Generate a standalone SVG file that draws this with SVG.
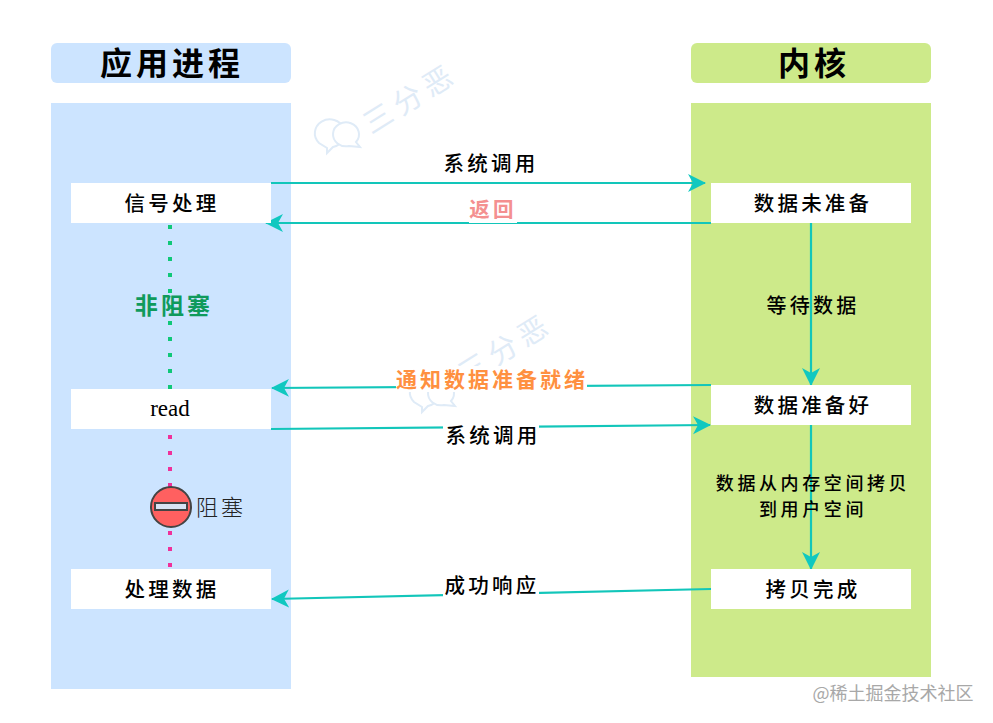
<svg xmlns="http://www.w3.org/2000/svg" width="993" height="723" viewBox="0 0 993 723">
<style>
text{font-family:"Noto Sans CJK SC","Noto Sans",sans-serif;text-anchor:middle;dominant-baseline:central;fill:#000}
.title{font-size:32px;font-weight:700;letter-spacing:4px}
.n{font-size:20.5px;font-weight:500;letter-spacing:3.2px}
.blue{fill:#cce4ff}.green{fill:#cdea8a}.box{fill:#fff}
.c{fill:none;stroke:#12c6ba;stroke-width:2.2}
.wm{fill:#dfebf7;font-size:29px;letter-spacing:6px}
.wb{fill:#fff;stroke:#dfebf7;stroke-width:2}
</style>
<defs>
<marker id="a" markerUnits="userSpaceOnUse" markerWidth="20" markerHeight="20" refX="17" refY="9" orient="auto"><path d="M0 0L18 9L0 18L5 9Z" fill="#10c8c0"/></marker>
</defs>
<rect width="993" height="723" fill="#fff"/>
<g id="watermarks">
<path class="wb" d="M319 143a15 14 0 1 1 14 4l-6 6 0-5z"/>
<path class="wb" d="M349 146a13 12 0 1 1 7-4l4 5z"/>
<text class="wm" transform="translate(409,96) rotate(-32)">三分恶</text>
<text class="wm" transform="translate(504,346) rotate(-32)">三分恶</text>
<path class="wb" d="M414 402a15 14 0 1 1 14 4l-6 6 0-5z"/>
<path class="wb" d="M444 405a13 12 0 1 1 7-4l4 5z"/>
</g>
<g id="lane-app"><rect class="blue" x="51" y="43" width="240" height="40" rx="6"/><text class="title" x="172" y="61">应用进程</text><rect class="blue" x="51" y="103" width="240" height="586"/></g>
<g id="lane-kernel"><rect class="green" x="691" y="43" width="240" height="40" rx="6"/><text class="title" x="814" y="61">内核</text><rect class="green" x="691" y="103" width="240" height="574"/></g>
<g id="connectors">
<line x1="170" y1="225" x2="170" y2="389" stroke="#10c878" stroke-width="4" stroke-dasharray="4 12"/>
<line x1="170" y1="435" x2="170" y2="569" stroke="#f0309a" stroke-width="4" stroke-dasharray="4 12"/>
<line class="c" x1="271" y1="183" x2="705" y2="183" marker-end="url(#a)"/>
<line class="c" x1="711" y1="223" x2="266" y2="223" marker-end="url(#a)"/>
<line class="c" x1="811" y1="223" x2="811" y2="385" marker-end="url(#a)"/>
<line class="c" x1="711" y1="385" x2="272" y2="388" marker-end="url(#a)"/>
<line class="c" x1="271" y1="429" x2="710" y2="425" marker-end="url(#a)"/>
<line class="c" x1="811" y1="425" x2="811" y2="569" marker-end="url(#a)"/>
<line class="c" x1="711" y1="589" x2="272" y2="599" marker-end="url(#a)"/>
</g>
<g id="n-signal"><rect class="box" x="71" y="183" width="200" height="40"/><text class="n" x="172" y="202">信号处理</text></g>
<g id="n-read"><rect class="box" x="71" y="389" width="200" height="40"/><text x="170" y="408" style="font-family:'Liberation Serif',serif;font-size:23px">read</text></g>
<g id="n-process"><rect class="box" x="71" y="569" width="200" height="40"/><text class="n" x="172" y="588">处理数据</text></g>
<g id="n-notready"><rect class="box" x="711" y="183" width="200" height="40"/><text class="n" x="813" y="202">数据未准备</text></g>
<g id="n-ready"><rect class="box" x="711" y="385" width="200" height="40"/><text class="n" x="813" y="404">数据准备好</text></g>
<g id="n-done"><rect class="box" x="711" y="569" width="200" height="40"/><text class="n" x="813" y="588">拷贝完成</text></g>
<g id="block-icon"><circle cx="171" cy="507" r="20" fill="#ff6060" stroke="#444" stroke-width="2"/><rect x="155" y="503" width="32" height="7" fill="#d8e4f4" stroke="#444" stroke-width="2"/></g>
<g id="labels">
<text class="n" x="491" y="162">系统调用</text>
<rect x="469" y="199" width="48" height="24" fill="#fff"/><text class="n" x="493" y="208" style="fill:#f49090;font-weight:700">返回</text>
<text class="n" x="174" y="304" style="fill:#0f9a5c;font-weight:700;font-size:23px">非阻塞</text>
<text class="n" x="813" y="304" style="font-size:20px">等待数据</text>
<rect x="396" y="366" width="191" height="26" fill="#fff"/><text class="n" x="492" y="378" style="fill:#ff9040;font-weight:700;font-size:21px;letter-spacing:3px">通知数据准备就绪</text>
<rect x="443" y="422" width="96" height="26" fill="#fff"/><text class="n" x="493" y="434">系统调用</text>
<text x="221" y="505" style="font-size:22px;font-weight:300;letter-spacing:3px;fill:#222">阻塞</text>
<text class="n" x="813" y="482" style="font-size:18px;letter-spacing:3.6px">数据从内存空间拷贝</text>
<text class="n" x="813" y="508" style="font-size:18px;letter-spacing:3.6px">到用户空间</text>
<rect x="443" y="572" width="96" height="26" fill="#fff"/><text class="n" x="492" y="584">成功响应</text>
<text x="893" y="692" style="font-size:18px;fill:#a8a8a8">@稀土掘金技术社区</text>
</g>
</svg>
